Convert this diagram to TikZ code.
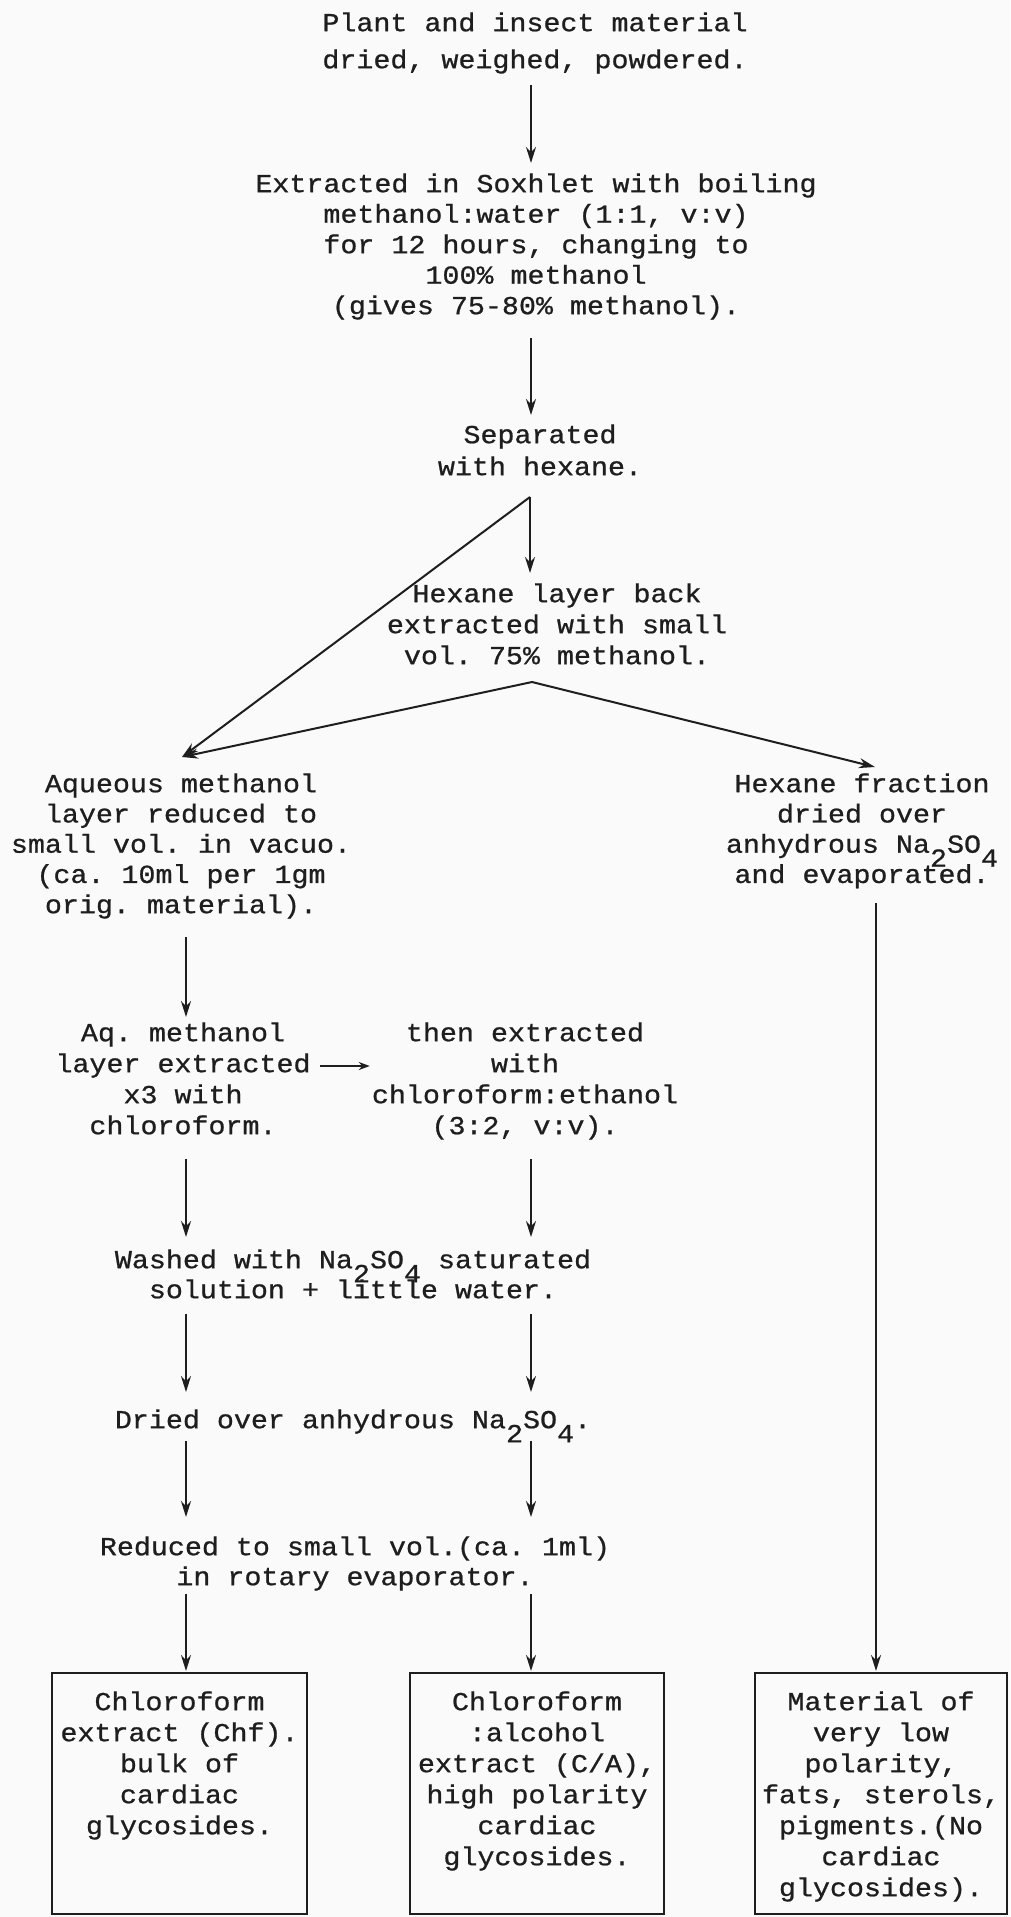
\documentclass[tikz,border=0pt]{standalone}
\usepackage{fontspec}
\setmonofont{Liberation Mono}[FakeStretch=1.09,FakeBold=0.8]
\usetikzlibrary{arrows.meta}
\definecolor{ink}{HTML}{1E1E1E}
\definecolor{paper}{HTML}{FAFAFA}
\newcommand\typ{\ttfamily\fontsize{26}{30.5}\selectfont}
\newcommand\hsx{\rule{0pt}{24pt}}
\newcommand\dsx{\rule[-8pt]{0pt}{8pt}}
\newcommand\dn[1]{\raisebox{-14pt}[0pt][0pt]{#1}}
\newcommand\bx[3]{\parbox[c][#1][t]{#2}{\centering\ttfamily\fontsize{26}{31}\selectfont\rule{0pt}{37pt}#3}}
\tikzset{
  tx/.style={inner sep=0pt, anchor=north, align=center, text=ink, font=\typ},
  arr/.style={draw=ink, line width=2pt, -{Stealth[length=16pt,width=10pt]}},
  resbox/.style={draw=ink, line width=2.4pt, inner sep=0pt, anchor=north, text=ink}
}
\begin{document}
\begin{tikzpicture}[x=1pt,y=-1pt]
\fill[paper] (0,0) rectangle (1010,1917);
\useasboundingbox (0,0) rectangle (1010,1917);
% column coordinates
\coordinate (cL) at (186,0);
\coordinate (cM) at (531,0);
\coordinate (cR) at (876,0);
\coordinate (hy) at (0,1066);
\coordinate (apA) at (530,497);
\coordinate (apB) at (532,682);
\coordinate (aqtip) at (182,757);
\coordinate (hftip) at (875,767);
% nodes
\node[tx, font=\ttfamily\fontsize{26}{37}\selectfont] (plant) at (535,7)
  {\hsx Plant and insect material\\dried, weighed, powdered.\dsx};
\node[tx] (ext) at (536,168)
  {\hsx Extracted in Soxhlet with boiling\\methanol:water (1:1, v:v)\\for 12 hours, changing to\\100\% methanol\\(gives 75-80\% methanol).\dsx};
\node[tx, font=\ttfamily\fontsize{26}{32}\selectfont] (sep) at (540,419)
  {\hsx Separated\\with hexane.\dsx};
\node[tx, font=\ttfamily\fontsize{26}{31}\selectfont] (hexl) at (557,578)
  {\hsx Hexane layer back\\extracted with small\\vol. 75\% methanol.\dsx};
\node[tx, font=\ttfamily\fontsize{26}{30.25}\selectfont] (aq) at (181,768)
  {\hsx Aqueous methanol\\layer reduced to\\small vol. in vacuo.\\(ca. 10ml per 1gm\\orig. material).\dsx};
\node[tx, font=\ttfamily\fontsize{26}{30.25}\selectfont] (hf) at (862,768)
  {\hsx Hexane fraction\\dried over\\anhydrous Na\dn{2}SO\dn{4}\\and evaporated.\dsx};
\node[tx, font=\ttfamily\fontsize{26}{31}\selectfont] (aqm) at (183,1017)
  {\hsx Aq. methanol\\layer extracted\\x3 with\\chloroform.\dsx};
\node[tx, font=\ttfamily\fontsize{26}{31}\selectfont] (then) at (525,1017)
  {\hsx then extracted\\with\\chloroform:ethanol\\(3:2, v:v).\dsx};
\node[tx, font=\ttfamily\fontsize{26}{30}\selectfont] (washed) at (353,1244)
  {\hsx Washed with Na\dn{2}SO\dn{4} saturated\\solution + little water.\dsx};
\node[tx] (dried) at (353,1404)
  {\hsx Dried over anhydrous Na\dn{2}SO\dn{4}.\dsx};
\node[tx, font=\ttfamily\fontsize{26}{30}\selectfont] (red) at (355,1531)
  {\hsx Reduced to small vol.(ca. 1ml)\\in rotary evaporator.\dsx};
% result boxes
\node[resbox] (b1) at (179.5,1672)
  {\bx{241pt}{255pt}{Chloroform\\extract (Chf).\\bulk of\\cardiac\\glycosides.}};
\node[resbox] (b2) at (537,1672)
  {\bx{241pt}{254pt}{Chloroform\\:alcohol\\extract (C/A),\\high polarity\\cardiac\\glycosides.}};
\node[resbox] (b3) at (881,1672)
  {\bx{241pt}{252pt}{Material of\\very low\\polarity,\\fats, sterols,\\pigments.(No\\cardiac\\glycosides).}};
% connectors
\draw[arr, shorten <=9pt, shorten >=5pt] (plant.south -| cM) -- (ext.north -| cM);
\draw[arr, shorten <=16pt, shorten >=4pt] (ext.south -| cM) -- (sep.north -| cM);
\draw[arr, shorten >=5pt] (apA) -- (hexl.north -| apA);
\draw[arr] (apA) -- (aqtip);
\draw[arr] (apB) -- (aqtip);
\draw[arr] (apB) -- (hftip);
\draw[arr, shorten <=16pt] (aq.south -| cL) -- (aqm.north -| cL);
\draw[arr, line width=1.8pt, -{Stealth[length=11pt,width=8pt]}, shorten <=9pt, shorten >=2pt] (aqm.east |- hy) -- (then.west |- hy);
\draw[arr, shorten <=17pt, shorten >=7pt] (aqm.south -| cL) -- (washed.north -| cL);
\draw[arr, shorten <=17pt, shorten >=7pt] (then.south -| cM) -- (washed.north -| cM);
\draw[arr, shorten <=8pt, shorten >=12pt] (washed.south -| cL) -- (dried.north -| cL);
\draw[arr, shorten <=8pt, shorten >=12pt] (washed.south -| cM) -- (dried.north -| cM);
\draw[arr, shorten <=5pt, shorten >=14pt] (dried.south -| cL) -- (red.north -| cL);
\draw[arr, shorten <=5pt, shorten >=14pt] (dried.south -| cM) -- (red.north -| cM);
\draw[arr, shorten <=1pt, shorten >=1pt] (red.south -| cL) -- (b1.north -| cL);
\draw[arr, shorten <=1pt, shorten >=1pt] (red.south -| cM) -- (b2.north -| cM);
\draw[arr, shorten <=12pt, shorten >=1pt] (hf.south -| cR) -- (b3.north -| cR);
\end{tikzpicture}
\end{document}
